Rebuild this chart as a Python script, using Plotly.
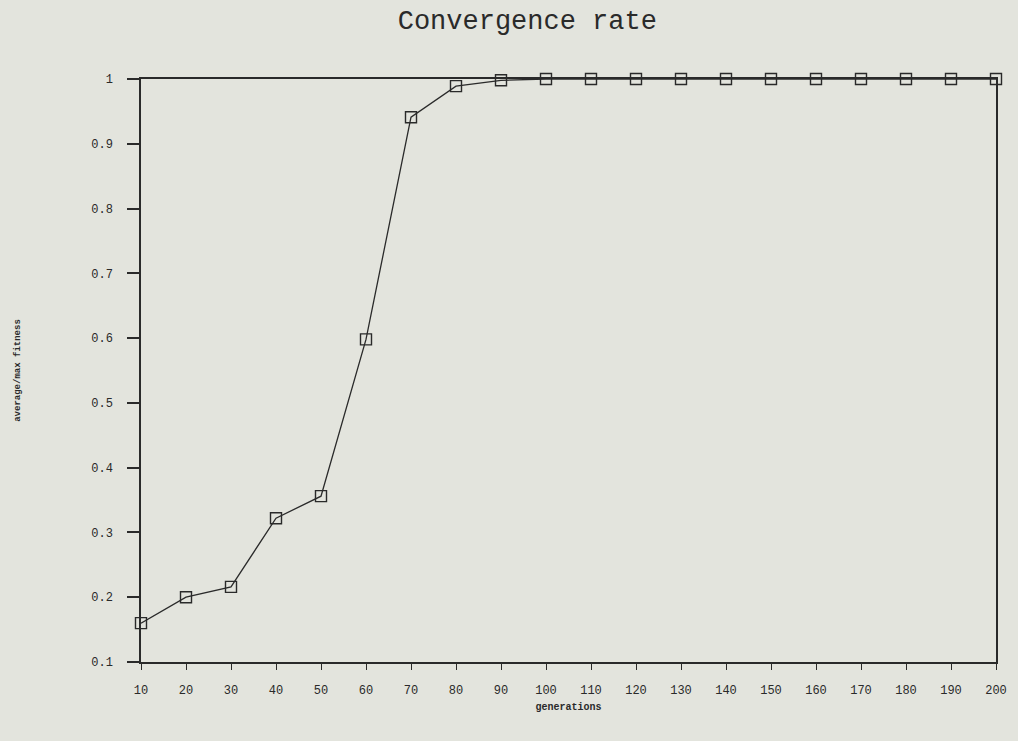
import plotly.graph_objects as go

# Average/max fitness ratio sampled every 10 generations
generations = [10, 20, 30, 40, 50, 60, 70, 80, 90, 100,
               110, 120, 130, 140, 150, 160, 170, 180, 190, 200]
fitness_ratio = [0.16, 0.20, 0.216, 0.322, 0.356, 0.598, 0.941, 0.989, 0.998, 1.0,
                 1.0, 1.0, 1.0, 1.0, 1.0, 1.0, 1.0, 1.0, 1.0, 1.0]

y_ticks = [0.1, 0.2, 0.3, 0.4, 0.5, 0.6, 0.7, 0.8, 0.9, 1.0]
y_tick_labels = ["0.1", "0.2", "0.3", "0.4", "0.5", "0.6", "0.7", "0.8", "0.9", "1"]

bg = "#e3e4dd"
ink = "#2a2a2a"
mono = "Liberation Mono, DejaVu Sans Mono, monospace"

fig = go.Figure()
fig.add_trace(go.Scatter(
    x=generations, y=fitness_ratio,
    mode="lines+markers",
    line=dict(color=ink, width=1.3),
    marker=dict(symbol="square-open", size=11, color=ink, line=dict(width=1.4)),
    cliponaxis=False,
    showlegend=False,
))

fig.update_layout(
    width=1018, height=741,
    paper_bgcolor=bg, plot_bgcolor=bg,
    margin=dict(l=141, r=22, t=79, b=79),
    title=dict(text="Convergence rate", x=0.518, xanchor="center", y=0.974, yanchor="middle",
               font=dict(family=mono, size=27, color=ink)),
    font=dict(family=mono, color=ink),
)

fig.update_xaxes(
    range=[10, 200], tickvals=generations,
    ticks="outside", ticklen=6, tickcolor=ink, tickwidth=1,
    ticklabelstandoff=10,
    showline=True, linecolor=ink, linewidth=1.5, mirror=True,
    showgrid=False, zeroline=False,
    tickfont=dict(family=mono, size=12, color=ink),
    title=dict(text="<b>generations</b>", standoff=6, font=dict(family=mono, size=10, color=ink)),
)
fig.update_yaxes(
    range=[0.1, 1.0], tickvals=y_ticks, ticktext=y_tick_labels,
    ticks="outside", ticklen=12, tickcolor=ink, tickwidth=1.5,
    ticklabelstandoff=12,
    showline=True, linecolor=ink, linewidth=1.5, mirror=True,
    showgrid=False, zeroline=False,
    tickfont=dict(family=mono, size=12, color=ink),
    title=dict(text="<b>average/max fitness</b>", standoff=69, font=dict(family=mono, size=9, color=ink)),
)

fig.write_html("out.html")
